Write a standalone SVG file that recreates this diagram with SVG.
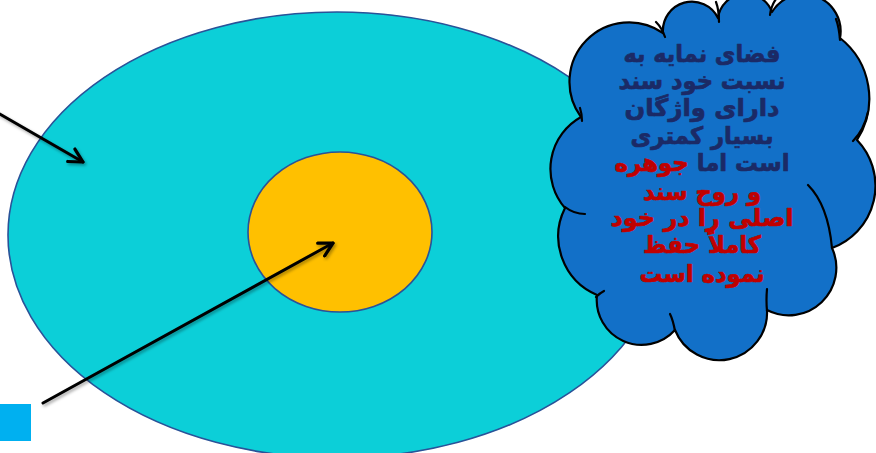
<svg xmlns="http://www.w3.org/2000/svg" width="876" height="453" viewBox="0 0 876 453">
<style>
.ring{stroke:#2A5298;stroke-width:1.6}
.arrow{fill:none;stroke:#000;stroke-width:3;stroke-linecap:round;marker-end:url(#head);filter:url(#shadow)}
.cloud{fill:#1270C8;stroke:#000;stroke-width:2.2;stroke-linejoin:round}
.inner{fill:none;stroke:#000;stroke-width:2.2;stroke-linecap:round}
.t{font-family:"DejaVu Sans",sans-serif;font-weight:bold;font-size:24px;text-anchor:middle;direction:rtl;stroke-width:0.7;stroke-linejoin:round}
.dark{fill:#1B2A66;stroke:#1B2A66}
.red{fill:#C00000;stroke:#C00000}
</style>
<defs>
<marker id="head" viewBox="0 0 10 10" refX="9" refY="5" markerWidth="6" markerHeight="6" orient="auto" markerUnits="strokeWidth">
<path d="M1.5,1 L9,5 L1.5,9" fill="none" stroke="#000" stroke-width="1.8" stroke-linecap="round" stroke-linejoin="round"/>
</marker>
<filter id="shadow" x="-20%" y="-20%" width="140%" height="140%">
<feDropShadow dx="1.5" dy="2" stdDeviation="1.5" flood-color="#000" flood-opacity="0.35"/>
</filter>
</defs>
<rect width="876" height="453" fill="#fff"/>
<g id="outer-ellipse">
<ellipse class="ring" cx="337" cy="235" rx="329" ry="223" fill="#0CCFD8"/>
</g>
<g id="inner-circle">
<ellipse class="ring" cx="340" cy="232" rx="92" ry="80" fill="#FFC000"/>
</g>
<g id="connectors">
<line class="arrow" x1="-2" y1="113" x2="83" y2="162"/>
<line class="arrow" x1="43" y1="403" x2="333" y2="243"/>
</g>
<g id="square">
<rect x="0" y="404" width="31" height="37" fill="#00B0F0"/>
</g>
<g id="cloud">
<path class="cloud" d="M581,117 A59.5,59.5 0 0 1 663,33 A29,29 0 0 1 718,18 A28,28 0 0 1 772,12 A37,37 0 0 1 840,38 A76.8,76.8 0 0 1 857,140 A66.2,66.2 0 0 1 832,248 A47.5,47.5 0 0 1 767,310 A47.7,47.7 0 0 1 675,330 A44.9,44.9 0 0 1 597,295 A63.6,63.6 0 0 1 565,208 A59.5,59.5 0 0 1 581,117 Z"/>
<path class="inner" d="M580,108 Q582,114 582,121 M656,22 Q662,28 665,37 M716,2 Q719,10 719,22 M770,15 Q771,6 776,-1 M836,19 Q839,27 840,40 M853,141 Q864,130 868,112 M808,185 Q828,205 832,248 M767,289 Q766,300 767,311 M670,314 Q673,320 675,331 M604,291 Q600,293 596,297 M585,214 Q574,214 565,207"/>
<text class="t dark" x="702" y="62" textLength="157" lengthAdjust="spacingAndGlyphs">فضای نمایه به</text>
<text class="t dark" x="702" y="89" textLength="167" lengthAdjust="spacingAndGlyphs">نسبت خود سند</text>
<text class="t dark" x="702" y="116" textLength="155" lengthAdjust="spacingAndGlyphs">دارای واژگان</text>
<text class="t dark" x="702" y="144" textLength="143" lengthAdjust="spacingAndGlyphs">بسیار کمتری</text>
<text class="t" x="702" y="171" textLength="175" lengthAdjust="spacingAndGlyphs"><tspan class="dark">است اما </tspan><tspan class="red">جوهره</tspan></text>
<text class="t red" x="702" y="200" textLength="118" lengthAdjust="spacingAndGlyphs">و روح سند</text>
<text class="t red" x="702" y="226" textLength="183" lengthAdjust="spacingAndGlyphs">اصلی را در خود</text>
<text class="t red" x="702" y="253" textLength="118" lengthAdjust="spacingAndGlyphs">کاملاً حفظ</text>
<text class="t red" x="702" y="282" textLength="125" lengthAdjust="spacingAndGlyphs">نموده است</text>
</g>
</svg>
